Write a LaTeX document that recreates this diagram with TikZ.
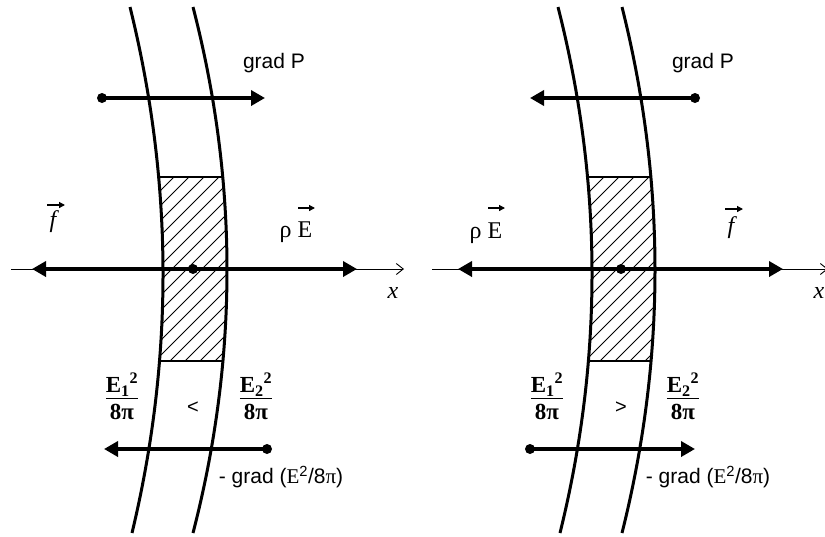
\documentclass[tikz,border=0pt]{standalone}
\usepackage{fontspec}
\setmainfont{Liberation Serif}
\setsansfont{Liberation Sans}
\usetikzlibrary{arrows.meta}
\newcommand{\myEfrac}[1]{\begin{tabular}{@{}c@{}}E\textsubscript{#1}\textsuperscript{2}\\[-2pt]\hline\rule{0pt}{21pt}8π\end{tabular}}
\newcommand{\mygradE}{- grad ({\rmfamily E}\textsuperscript{2}/8{\rmfamily π})}
\tikzset{
  wall/.style={line width=3pt},
  force/.style={line width=3.6pt, -{Triangle[length=14pt,width=15pt]}},
  axisline/.style={line width=0.9pt, -{Straight Barb[length=7pt,width=11pt]}},
  vecarrow/.style={line width=1.3pt, -{Triangle[length=6pt,width=6pt]}},
  hatchline/.style={line width=0.8pt},
  border/.style={line width=1.5pt},
  dotnode/.style={circle, fill=black, inner sep=0pt, minimum size=10pt},
  sanslabel/.style={font=\sffamily\fontsize{21}{24}\selectfont, inner sep=0pt},
  seriflabel/.style={font=\fontsize{24}{28}\selectfont, inner sep=0pt},
  italabel/.style={font=\itshape\fontsize{24}{28}\selectfont, inner sep=0pt},
  fraclabel/.style={font=\bfseries\fontsize{23}{25}\selectfont, inner sep=0pt},
  cmplabel/.style={font=\sffamily\fontsize{20}{24}\selectfont, inner sep=0pt},
}
\begin{document}
\begin{tikzpicture}[x=1pt,y=-1pt]
\clip (0,0) rectangle (825,536);
\fill[white] (0,0) rectangle (825,536);

% ================= LEFT PANEL =================
\begin{scope}
  \clip (130,7) .. controls (173.33,182.33) and (174,357.67) .. (132,533)
        -- (193,533) .. controls (238.33,357.67) and (238.33,182.33) .. (193,7) -- cycle;
  \begin{scope}
    \clip (100,177) rectangle (300,361);
    \foreach \a in {-40,-25,...,245} \draw[hatchline] (\a,361) -- ++(200,-200);
  \end{scope}
  \draw[border] (100,177) -- (300,177);
  \draw[border] (100,361) -- (300,361);
\end{scope}
\draw[wall] (130,7) .. controls (173.33,182.33) and (174,357.67) .. (132,533);
\draw[wall] (193,7) .. controls (238.33,182.33) and (238.33,357.67) .. (193,533);

% x axis
\coordinate (axAL) at (11,269);
\coordinate (axAR) at (404,269);
\draw[axisline] (axAL) -- (axAR);
\node[italabel] (xA) at (393,293) {x};

% forces on axis
\node[dotnode] (cA) at (193,269) {};
\coordinate (fAL) at (32,269);
\coordinate (fAR) at (357,269);
\draw[force] (cA.center) -- (fAL);
\draw[force] (cA.center) -- (fAR);
\node[italabel] (lfA) at (53,222) {f};
\coordinate (vfA1) at (47,205);
\coordinate (vfA2) at (65,205);
\draw[vecarrow] (vfA1) -- (vfA2);
\node[seriflabel, anchor=base] (lEA) at (296,237) {ρ\hspace{6pt}E};
\coordinate (vEA1) at (298,208);
\coordinate (vEA2) at (315,208);
\draw[vecarrow] (vEA1) -- (vEA2);

% grad P
\node[dotnode] (gpA) at (102,98) {};
\coordinate (gpAt) at (265,98);
\draw[force] (gpA.center) -- (gpAt);
\node[sanslabel] (lgpA) at (274,63) {grad P};

% bottom
\node[fraclabel] (e1A) at (122,400) {\myEfrac{1}};
\node[cmplabel] (ltA) at (193,408) {<};
\node[fraclabel] (e2A) at (256,400) {\myEfrac{2}};
\node[dotnode] (geA) at (267,449) {};
\coordinate (geAt) at (104,449);
\draw[force] (geA.center) -- (geAt);
\node[sanslabel] (lgeA) at (281,477) {\mygradE};

% ================= RIGHT PANEL =================
\begin{scope}
  \clip (558,7) .. controls (602.67,182.33) and (603.33,357.67) .. (560,533)
        -- (622,533) .. controls (666,357.67) and (666,182.33) .. (622,7) -- cycle;
  \begin{scope}
    \clip (530,177) rectangle (730,361);
    \foreach \a in {390,405,...,675} \draw[hatchline] (\a,361) -- ++(200,-200);
  \end{scope}
  \draw[border] (530,177) -- (730,177);
  \draw[border] (530,361) -- (730,361);
\end{scope}
\draw[wall] (558,7) .. controls (602.67,182.33) and (603.33,357.67) .. (560,533);
\draw[wall] (622,7) .. controls (666,182.33) and (666,357.67) .. (622,533);

\coordinate (axBL) at (432,269);
\coordinate (axBR) at (828,269);
\draw[axisline] (axBL) -- (axBR);
\node[italabel] (xB) at (819,293) {x};

\node[dotnode] (cB) at (621,269) {};
\coordinate (fBL) at (458,269);
\coordinate (fBR) at (783,269);
\draw[force] (cB.center) -- (fBL);
\draw[force] (cB.center) -- (fBR);
\node[seriflabel, anchor=base] (lEB) at (486,238) {ρ\hspace{6pt}E};
\coordinate (vEB1) at (488,208);
\coordinate (vEB2) at (505,208);
\draw[vecarrow] (vEB1) -- (vEB2);
\node[italabel] (lfB) at (731,228) {f};
\coordinate (vfB1) at (725,209);
\coordinate (vfB2) at (743,209);
\draw[vecarrow] (vfB1) -- (vfB2);

\node[dotnode] (gpB) at (695,98) {};
\coordinate (gpBt) at (530,98);
\draw[force] (gpB.center) -- (gpBt);
\node[sanslabel] (lgpB) at (703,63) {grad P};

\node[fraclabel] (e1B) at (547,400) {\myEfrac{1}};
\node[cmplabel] (gtB) at (621,408) {>};
\node[fraclabel] (e2B) at (683,400) {\myEfrac{2}};
\node[dotnode] (geB) at (530,449) {};
\coordinate (geBt) at (695,449);
\draw[force] (geB.center) -- (geBt);
\node[sanslabel] (lgeB) at (708,477) {\mygradE};
\end{tikzpicture}
\end{document}
